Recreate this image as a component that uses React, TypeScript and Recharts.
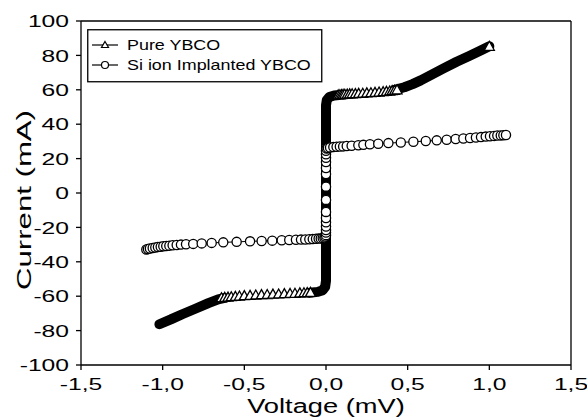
import {
  Label,
  ReferenceLine,
  Scatter,
  ScatterChart,
  XAxis,
  YAxis,
} from 'recharts';

const FONT = '"Liberation Sans", Arial, sans-serif';
const STRETCH = 1.3;
const TICK_STRETCH = 1.45;

const xTicks = [-1.5, -1.0, -0.5, 0, 0.5, 1.0, 1.5];
const yTicks = [-100, -80, -60, -40, -20, 0, 20, 40, 60, 80, 100];

// Pure YBCO: parts where the triangles are packed into a solid black band
const pureBandNeg: [number, number][] = [
  [-1.02, -76.3], [-0.95, -73.5], [-0.88, -70.5], [-0.8, -67.3],
  [-0.72, -64], [-0.66, -61.8], [-0.62, -61],
];
const pureBandMid: [number, number][] = [
  [-0.1, -58], [-0.05, -57.5], [-0.02, -56.5], [-0.005, -54.5], [0, -51],
  [0, 51], [0.005, 54], [0.02, 55.8], [0.05, 56.7], [0.08, 57],
];
const pureBandPos: [number, number][] = [
  [0.42, 60], [0.48, 61.5], [0.53, 63.3], [0.58, 65.5], [0.65, 69],
  [0.72, 72.5], [0.8, 76.3], [0.88, 79.8], [0.95, 83], [1.0, 85.3],
];

// Pure YBCO: single triangles that can still be told apart
const pureMarkersNeg: [number, number][] = [
  [-0.64, -60.9], [-0.62, -60.7], [-0.6, -60.5], [-0.58, -60.3], [-0.555, -60.1],
  [-0.53, -59.9], [-0.5, -59.7], [-0.465, -59.5], [-0.43, -59.3], [-0.395, -59.1],
  [-0.36, -59.0], [-0.325, -58.8], [-0.29, -58.7], [-0.255, -58.5], [-0.22, -58.4],
  [-0.19, -58.3], [-0.16, -58.1], [-0.135, -58.0], [-0.115, -57.9], [-0.095, -57.8],
];
const pureMarkersPos: [number, number][] = [
  [0.075, 57.0], [0.085, 57.1], [0.095, 57.2], [0.105, 57.3], [0.115, 57.4],
  [0.13, 57.5], [0.145, 57.6], [0.16, 57.7], [0.18, 57.8], [0.2, 57.9],
  [0.225, 58.0], [0.25, 58.2], [0.275, 58.3], [0.3, 58.5], [0.325, 58.7],
  [0.35, 58.9], [0.37, 59.1], [0.39, 59.3], [0.405, 59.5], [0.42, 59.7], [0.435, 60.0],
];
const pureEnd: [number, number][] = [[1.0, 85.3]];

// Si ion implanted YBCO, in sweep order
const siImplanted: [number, number][] = [
  [-1.1, -32.8], [-1.09, -32.6], [-1.078, -32.3], [-1.061, -32.0], [-1.045, -31.7],
  [-1.029, -31.4], [-1.012, -31.2], [-0.996, -31.0], [-0.978, -30.8], [-0.959, -30.6],
  [-0.939, -30.4], [-0.914, -30.2], [-0.888, -30.0], [-0.857, -29.8], [-0.813, -29.6],
  [-0.761, -29.3], [-0.7, -29.0], [-0.629, -28.7], [-0.547, -28.4], [-0.465, -28.1],
  [-0.394, -27.9], [-0.329, -27.7], [-0.271, -27.5], [-0.225, -27.3], [-0.184, -27.2],
  [-0.153, -27.1], [-0.127, -27.0], [-0.102, -26.9], [-0.081, -26.8], [-0.061, -26.6],
  [-0.045, -26.5], [-0.032, -26.4], [-0.02, -26.2], [-0.01, -25.9], [-0.004, -25.3],
  [0, -24.5], [0, -23], [0, -21.5], [0, -19.5], [0, -17], [0, -14.5], [0, -11],
  [0, -4], [0, 3.7], [0, 11], [0, 14.5], [0, 18], [0, 20.5], [0, 22.5], [0, 24.5],
  [0.004, 25.8], [0.012, 26.2], [0.025, 26.5], [0.045, 26.7], [0.065, 26.9],
  [0.085, 27.0], [0.105, 27.1], [0.127, 27.3], [0.157, 27.5], [0.198, 27.8],
  [0.229, 28.0], [0.269, 28.3], [0.32, 28.6], [0.382, 29.0], [0.458, 29.4],
  [0.535, 29.8], [0.611, 30.2], [0.678, 30.6], [0.739, 31.0], [0.794, 31.4],
  [0.841, 31.7], [0.882, 32.0], [0.918, 32.3], [0.949, 32.5], [0.978, 32.8],
  [1.004, 33.0], [1.029, 33.2], [1.049, 33.4], [1.07, 33.5], [1.086, 33.6], [1.102, 33.7],
];

const toPoints = (rows: [number, number][]) => rows.map(([x, y]) => ({ x, y }));

const bandLine = { stroke: '#000', strokeWidth: 10, strokeLinejoin: 'round', strokeLinecap: 'round' };
const thinLine = { stroke: '#000', strokeWidth: 1 };

const Nothing = () => <g />;

const Triangle = (props: any) => {
  const { cx, cy } = props;
  return (
    <polygon
      points={`${cx},${cy - 5} ${cx + 5},${cy + 4} ${cx - 5},${cy + 4}`}
      fill="#fff"
      stroke="#000"
      strokeWidth={1.3}
    />
  );
};

const Ring = (props: any) => {
  const { cx, cy } = props;
  return <circle cx={cx} cy={cy} r={4.6} fill="#fff" stroke="#000" strokeWidth={1.3} />;
};

const fmtX = (v: number) => v.toFixed(1).replace('.', ',');

const XTick = (props: any) => {
  const { x, y, payload } = props;
  return (
    <g transform={`translate(${x},${y})`}>
      <text transform={`scale(${TICK_STRETCH},1)`} textAnchor="middle" dy="0.71em" fontSize={17} fontFamily={FONT} fill="#000">
        {fmtX(payload.value)}
      </text>
    </g>
  );
};

const YTick = (props: any) => {
  const { x, y, payload } = props;
  return (
    <g transform={`translate(${x},${y})`}>
      <text transform={`scale(${TICK_STRETCH},1)`} textAnchor="end" dy="0.36em" fontSize={17} fontFamily={FONT} fill="#000">
        {payload.value}
      </text>
    </g>
  );
};

const LegendBox = () => (
  <svg width={236} height={54} style={{ display: 'block' }}>
    <rect x={0.75} y={0.75} width={234} height={52} fill="#fff" stroke="#000" strokeWidth={1.3} />
    <line x1={5} x2={31} y1={16} y2={16} stroke="#000" strokeWidth={1.2} />
    <polygon points="18,12.5 21.5,18.5 14.5,18.5" fill="#fff" stroke="#000" strokeWidth={1.2} />
    <g transform="translate(40,21) scale(1.28,1)">
      <text fontSize={14} fontFamily={FONT} fill="#000">Pure YBCO</text>
    </g>
    <line x1={5} x2={31} y1={36} y2={36} stroke="#000" strokeWidth={1.2} />
    <circle cx={18} cy={36} r={3.5} fill="#fff" stroke="#000" strokeWidth={1.2} />
    <g transform="translate(40,41) scale(1.28,1)">
      <text fontSize={14} fontFamily={FONT} fill="#000">Si ion Implanted YBCO</text>
    </g>
  </svg>
);

export default function App() {
  return (
    <div style={{ position: 'absolute', left: 0, top: 0, width: 587, height: 419, background: '#fff' }}>
      <ScatterChart width={587} height={419} margin={{ top: 21, right: 16, bottom: 0, left: 0 }}>
        <XAxis
          type="number"
          dataKey="x"
          domain={[-1.5, 1.5]}
          ticks={xTicks}
          interval={0}
          height={54}
          stroke="#000"
          strokeWidth={1.3}
          tickSize={5}
          tickMargin={8}
          tick={XTick}
          allowDataOverflow
        >
          <Label
            content={(p: any) => {
              const vb = p.viewBox;
              return (
                <g transform={`translate(${vb.x + vb.width / 2},${vb.y + 48})`}>
                  <text transform={`scale(${STRETCH},1)`} textAnchor="middle" fontSize={21} fontFamily={FONT} fill="#000">
                    Voltage (mV)
                  </text>
                </g>
              );
            }}
          />
        </XAxis>
        <YAxis
          type="number"
          dataKey="y"
          domain={[-100, 100]}
          ticks={yTicks}
          interval={0}
          width={81}
          stroke="#000"
          strokeWidth={1.3}
          tickSize={5}
          tickMargin={7}
          tick={YTick}
          allowDataOverflow
        >
          <Label
            content={() => (
              <text
                transform="translate(31,200) rotate(-90)"
                textAnchor="middle"
                fontSize={21}
                fontFamily={FONT}
                fill="#000"
                textLength={180}
                lengthAdjust="spacingAndGlyphs"
              >
                Current (mA)
              </text>
            )}
          />
        </YAxis>
        <ReferenceLine y={100} stroke="#000" strokeWidth={1.3} />
        <ReferenceLine x={1.5} stroke="#000" strokeWidth={1.3} />
        <Scatter name="pureBandNeg" data={toPoints(pureBandNeg)} line={bandLine} shape={Nothing} isAnimationActive={false} />
        <Scatter name="pureBandMid" data={toPoints(pureBandMid)} line={bandLine} shape={Nothing} isAnimationActive={false} />
        <Scatter name="pureBandPos" data={toPoints(pureBandPos)} line={bandLine} shape={Nothing} isAnimationActive={false} />
        <Scatter name="Pure YBCO" data={toPoints(pureMarkersNeg)} line={thinLine} shape={Triangle} isAnimationActive={false} />
        <Scatter name="Pure YBCO +" data={toPoints(pureMarkersPos)} line={thinLine} shape={Triangle} isAnimationActive={false} />
        <Scatter name="Pure YBCO end" data={toPoints(pureEnd)} shape={Triangle} isAnimationActive={false} />
        <Scatter name="Si ion Implanted YBCO" data={toPoints(siImplanted)} line={thinLine} shape={Ring} isAnimationActive={false} />
      </ScatterChart>
      <div style={{ position: 'absolute', left: 87, top: 29 }}>
        <LegendBox />
      </div>
    </div>
  );
}
